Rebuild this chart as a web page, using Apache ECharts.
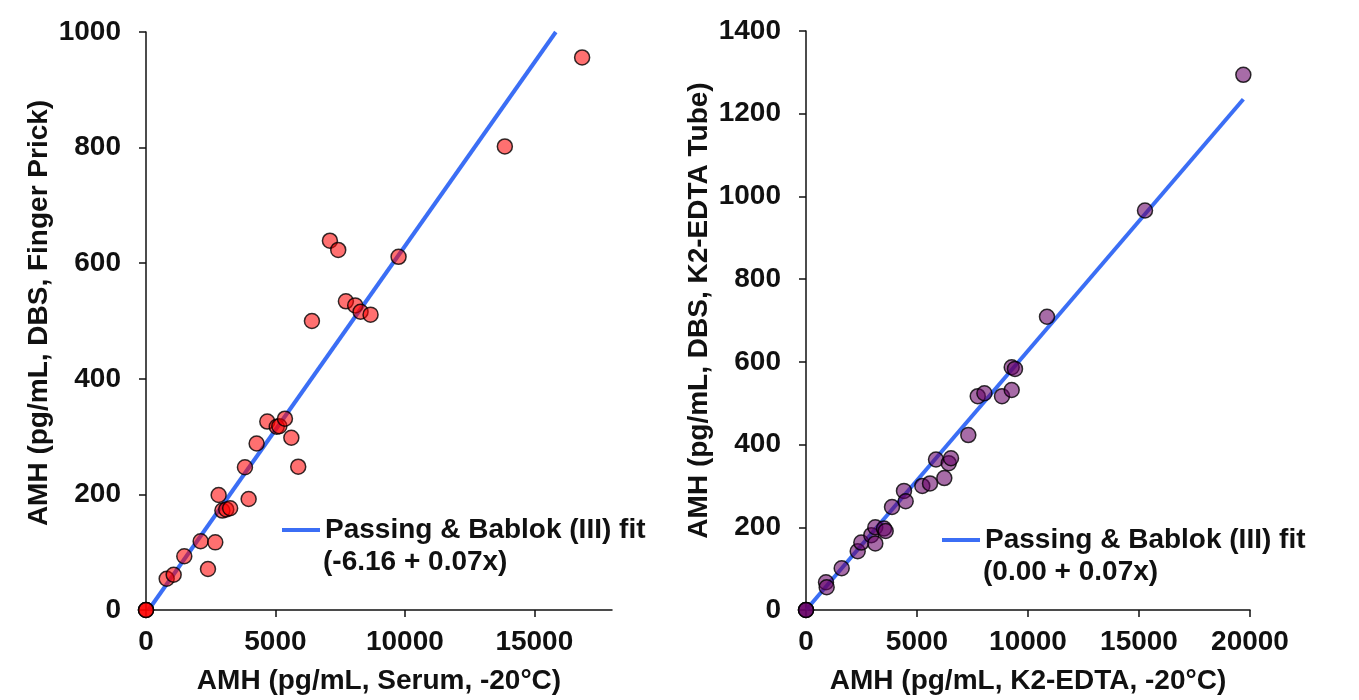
<!DOCTYPE html>
<html>
<head>
<meta charset="utf-8">
<script src="https://cdn.jsdelivr.net/npm/echarts@6/dist/echarts.min.js"></script>
<style>
  html, body { margin: 0; padding: 0; background: #fff; }
  #main { width: 1359px; height: 700px; }
</style>
</head>
<body>
<div id="main"></div>
<script>
// left panel: serum vs finger prick DBS
var serumX = [0, 0, 0, 799, 1069, 1479, 2111, 2394, 2676, 2806, 2950, 3100, 3250, 3822, 3965, 4273,
  4685, 5050, 5150, 5367, 5614, 5880, 6409, 7104, 7425, 7722, 8081, 8288, 8674, 9756, 13861, 16846];
var fingerY = [0, 0, 0, 54, 61, 93, 119, 71, 117, 199, 172, 174, 176, 247, 192, 288,
  326, 317, 318, 331, 298, 248, 500, 639, 623, 534, 527, 516, 511, 611, 802, 956];
var fitLeftX = [97, 15830];
var fitLeftY = [0, 1000];

// right panel: K2-EDTA plasma vs K2-EDTA tube DBS
var edtaX = [0, 0, 0, 901, 931, 1608, 2329, 2491, 2941, 3122, 3122, 3514, 3590, 3874, 4414, 4490,
  5239, 5586, 5856, 6230, 6428, 6532, 7311, 7736, 8036, 8829, 9266, 9266, 9414, 10856, 15270, 19700];
var tubeY = [0, 0, 0, 67, 55, 101, 142, 163, 181, 200, 161, 197, 191, 249, 288, 263,
  300, 306, 364, 319, 355, 367, 423, 517, 524, 517, 532, 587, 583, 709, 966, 1294];
var fitRightX = [0, 19700];
var fitRightY = [0, 1235];

var leftXTicks = [0, 5000, 10000, 15000];
var fitName = 'Passing & Bablok (III) fit';
var fitLabels = ['(-6.16 + 0.07x)', '(0.00 + 0.07x)'];

var font = '"Liberation Sans", Arial, sans-serif';
var black = '#111';
var blue = '#3b6ef5';

function pairs(xs, ys) {
  return xs.map(function (x, i) { return [x, ys[i]]; });
}

function valueAxis(idx, min, max, interval, name, isX, gap) {
  return {
    type: 'value',
    gridIndex: idx,
    min: min,
    max: max,
    interval: interval,
    name: name,
    nameLocation: 'middle',
    nameGap: gap,
    nameTextStyle: { color: black, fontSize: 28, fontWeight: 'bold', fontFamily: font },
    axisLine: { show: true, onZero: false, lineStyle: { color: black, width: 1.5 } },
    axisTick: { show: true, inside: false, length: 7, lineStyle: { color: black, width: 1.5 } },
    axisLabel: {
      color: black, fontSize: 28, fontWeight: 'bold', fontFamily: font, margin: isX ? 18 : 25,
      formatter: function (v) { return String(v); }
    },
    splitLine: { show: false }
  };
}

var xLeft = valueAxis(0, 0, 18000, 5000, 'AMH (pg/mL, Serum, -20°C)', true, 57);
xLeft.axisTick.customValues = leftXTicks;
xLeft.axisLabel.customValues = leftXTicks;
var xRight = valueAxis(1, 0, 20000, 5000, 'AMH (pg/mL, K2-EDTA, -20°C)', true, 57);
var yLeft = valueAxis(0, 0, 1000, 200, 'AMH (pg/mL, DBS, Finger Prick)', false, 93);
yLeft.nameTextStyle.padding = [0, 0, 0, 16];
var yRight = valueAxis(1, 0, 1400, 200, 'AMH (pg/mL, DBS, K2-EDTA Tube)', false, 93);
yRight.nameTextStyle.padding = [0, 0, 0, 20];

var titleStyle = { color: black, fontSize: 28, fontWeight: 'bold', fontFamily: font };
var legendStyle = { color: black, fontSize: 28, fontWeight: 'bold', fontFamily: font };

function legendAt(left, top) {
  return {
    data: [{ name: fitName, icon: 'rect' }], left: left, top: top, padding: 0,
    itemWidth: 38, itemHeight: 4, itemGap: 3,
    itemStyle: { color: blue, borderWidth: 0 },
    textStyle: legendStyle, selectedMode: false
  };
}

var option = {
  backgroundColor: '#fff',
  animation: false,
  grid: [
    { left: 146, top: 32, width: 466, height: 579 },
    { left: 806, top: 31, width: 444, height: 580 }
  ],
  xAxis: [xLeft, xRight],
  yAxis: [yLeft, yRight],
  legend: [legendAt(282, 516), legendAt(942, 526)],
  title: [
    { text: fitLabels[0], left: 323, top: 548, padding: 0, textStyle: titleStyle },
    { text: fitLabels[1], left: 983, top: 558, padding: 0, textStyle: titleStyle }
  ],
  series: [
    {
      name: fitName, type: 'line', xAxisIndex: 0, yAxisIndex: 0,
      data: pairs(fitLeftX, fitLeftY), symbol: 'none', z: 2,
      lineStyle: { color: blue, width: 4 }, itemStyle: { color: blue }
    },
    {
      name: 'finger', type: 'scatter', xAxisIndex: 0, yAxisIndex: 0,
      data: pairs(serumX, fingerY), symbolSize: 15, clip: false, z: 3,
      itemStyle: { color: 'rgba(255,0,0,0.7)', borderColor: '#000', borderWidth: 1.5 }
    },
    {
      name: fitName, type: 'line', xAxisIndex: 1, yAxisIndex: 1,
      data: pairs(fitRightX, fitRightY), symbol: 'none', z: 2,
      lineStyle: { color: blue, width: 4 }, itemStyle: { color: blue }
    },
    {
      name: 'tube', type: 'scatter', xAxisIndex: 1, yAxisIndex: 1,
      data: pairs(edtaX, tubeY), symbolSize: 15, clip: false, z: 3,
      itemStyle: { color: 'rgba(102,0,102,0.72)', borderColor: '#000', borderWidth: 1.5 }
    }
  ]
};

var myChart = echarts.init(document.getElementById('main'));
myChart.setOption(option);
</script>
</body>
</html>
